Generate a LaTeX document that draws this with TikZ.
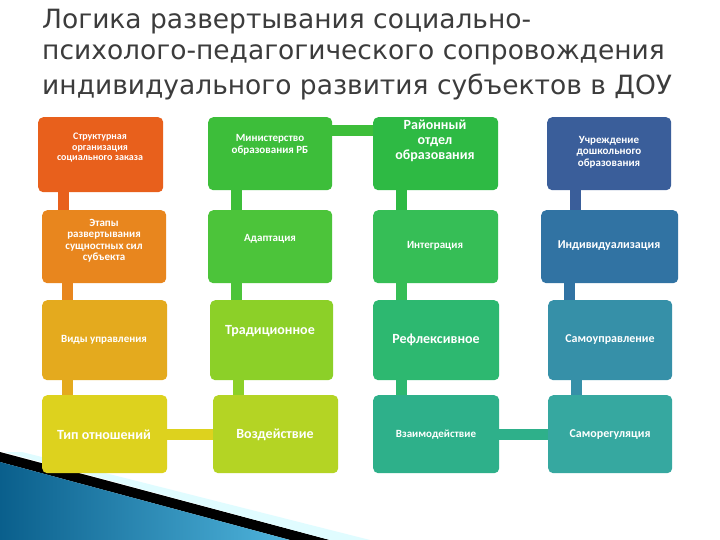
\documentclass[tikz,border=0pt]{standalone}
\usepackage{fontspec}
\setmainfont{Carlito}
\newfontfamily\titlefont{DejaVu Sans}
\definecolor{ca1}{HTML}{E8601C}\definecolor{cb1}{HTML}{3DBE3A}\definecolor{cc1}{HTML}{2EBA44}\definecolor{cd1}{HTML}{3A5E9A}
\definecolor{ca2}{HTML}{E8861E}\definecolor{cb2}{HTML}{4CC43A}\definecolor{cc2}{HTML}{36BE56}\definecolor{cd2}{HTML}{3173A3}
\definecolor{ca3}{HTML}{E4AA1E}\definecolor{cb3}{HTML}{8CD028}\definecolor{cc3}{HTML}{2DB870}\definecolor{cd3}{HTML}{3690A8}
\definecolor{ca4}{HTML}{DDD21E}\definecolor{cb4}{HTML}{B4D424}\definecolor{cc4}{HTML}{2EB08A}\definecolor{cd4}{HTML}{36A8A0}
\definecolor{titlegray}{HTML}{3C3C3C}
\definecolor{deco1}{HTML}{0A5F8C}\definecolor{deco2}{HTML}{4FB4DC}
\tikzset{
 box/.style={rounded corners=5pt,inner sep=2pt,anchor=north west},
 conn/.style={line width=11pt},
 ttl/.style={anchor=west,text=titlegray,font=\titlefont\fontsize{26.5}{28}\selectfont,inner sep=0pt},
 lbl/.style={text=white,align=center,font=\bfseries\fontsize{10}{10.5}\selectfont,inner sep=0pt},
 sm/.style={font=\bfseries\fontsize{11}{11.5}\selectfont},
 md/.style={font=\bfseries\fontsize{12}{13}\selectfont},
 lg/.style={font=\bfseries\fontsize{14}{15}\selectfont}
}
\begin{document}
\begin{tikzpicture}[x=1pt,y=-1pt]
\useasboundingbox (0,0) rectangle (720,540);
\fill[white] (0,0) rectangle (720,540);
% title
\node[ttl] (t1) at (42,22) {Логика развертывания социально-};
\node[ttl] (t2) at (42,55) {психолого-педагогического сопровождения};
\node[ttl] (t3) at (42,87) {индивидуального развития субъектов в ДОУ};
% decoration
\fill[black] (0,452) -- (330,540) -- (290,540) -- (0,462) -- cycle;
\shade[left color=deco1, right color=deco2] (0,462) -- (290,540) -- (0,540) -- cycle;
\fill[blue!10!cyan!12!white] (4,452) -- (22,452) -- (370,540) -- (330,540) -- cycle;
% row1
\node[box,fill=ca1,minimum width=125pt,minimum height=75pt] (a1) at (38,117) {};
\node[box,fill=cb1,minimum width=124pt,minimum height=73pt] (b1) at (208,117) {};
\node[box,fill=cc1,minimum width=125pt,minimum height=73pt] (c1) at (373,117) {};
\node[box,fill=cd1,minimum width=124pt,minimum height=73pt] (d1) at (547,117) {};
% row2
\node[box,fill=ca2,minimum width=124pt,minimum height=73pt] (a2) at (42,210) {};
\node[box,fill=cb2,minimum width=124pt,minimum height=73pt] (b2) at (208,210) {};
\node[box,fill=cc2,minimum width=125pt,minimum height=73pt] (c2) at (373,210) {};
\node[box,fill=cd2,minimum width=137pt,minimum height=73pt] (d2) at (541,210) {};
% row3
\node[box,fill=ca3,minimum width=125pt,minimum height=80pt] (a3) at (42,300) {};
\node[box,fill=cb3,minimum width=123pt,minimum height=80pt] (b3) at (210,300) {};
\node[box,fill=cc3,minimum width=126pt,minimum height=80pt] (c3) at (373,300) {};
\node[box,fill=cd3,minimum width=124pt,minimum height=80pt] (d3) at (548,300) {};
% row4
\node[box,fill=ca4,minimum width=125pt,minimum height=78pt] (a4) at (42,395) {};
\node[box,fill=cb4,minimum width=125pt,minimum height=78pt] (b4) at (213,395) {};
\node[box,fill=cc4,minimum width=126pt,minimum height=78pt] (c4) at (373,395) {};
\node[box,fill=cd4,minimum width=124pt,minimum height=78pt] (d4) at (548,395) {};
% connectors
\foreach \c/\x in {a/25,b/28,c/28,d/28}{
 \foreach \r/\s in {1/2,2/3,3/4}{
  \draw[conn,c\c\r] ([xshift=\x pt]\c\r.south west) -- ([xshift=\x pt]\c\r.south west |- \c\s.north);
 }}
\draw[conn,cb1] ([yshift=-14pt]b1.north east) -- ([yshift=-14pt]b1.north east -| c1.west);
\draw[conn,ca4] (a4.east) -- (b4.west);
\draw[conn,cc4] (c4.east) -- (d4.west);
% texts
\node[lbl] (ta1) at (100,148) {Структурная\\организация\\социального заказа};
\node[lbl,sm] (tb1) at (270,145) {Министерство\\образования РБ};
\node[lbl,lg] (tc1) at (435,141) {Районный\\отдел\\образования};
\node[lbl,sm] (td1) at (609,152) {Учреждение\\дошкольного\\образования};
\node[lbl,sm] (ta2) at (104,241) {Этапы\\развертывания\\сущностных сил\\субъекта};
\node[lbl,sm] (tb2) at (270,239) {Адаптация};
\node[lbl,sm] (tc2) at (435,246) {Интеграция};
\node[lbl,md] (td2) at (609,246) {Индивидуализация};
\node[lbl,sm] (ta3) at (104,340) {Виды управления};
\node[lbl,lg] (tb3) at (270,331) {Традиционное};
\node[lbl,lg] (tc3) at (436,340) {Рефлексивное};
\node[lbl,md] (td3) at (610,340) {Самоуправление};
\node[lbl,lg] (ta4) at (104,435) {Тип отношений};
\node[lbl,lg] (tb4) at (275,435) {Воздействие};
\node[lbl,sm] (tc4) at (436,435) {Взаимодействие};
\node[lbl,md] (td4) at (610,435) {Саморегуляция};
\end{tikzpicture}
\end{document}
